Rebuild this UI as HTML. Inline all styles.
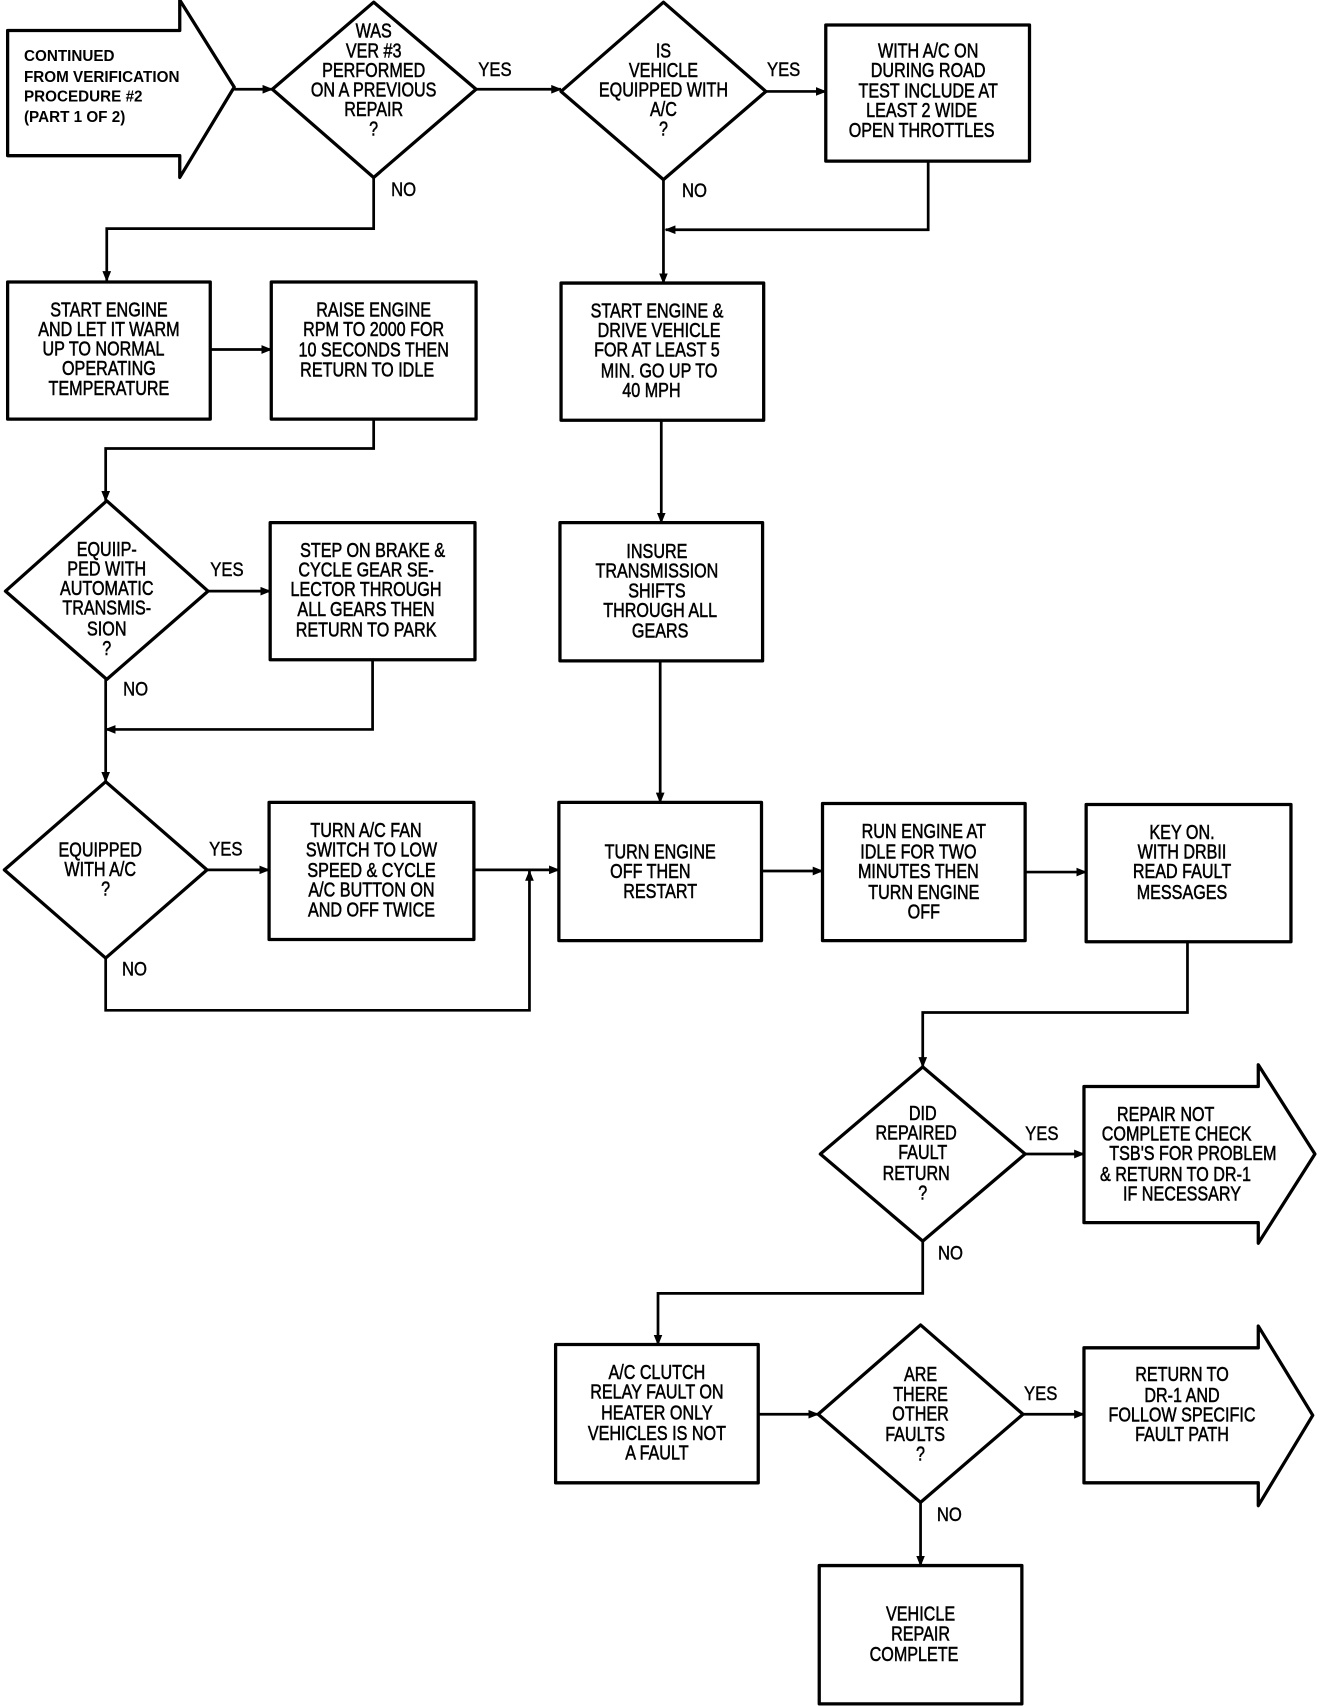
<!DOCTYPE html>
<html><head><meta charset="utf-8"><style>
html,body{margin:0;padding:0;background:#fff}
svg{display:block}
.t{font-family:"Liberation Sans",sans-serif;font-size:19px;fill:#000;stroke:#000;stroke-width:0.5;text-anchor:middle;dominant-baseline:central;transform-box:fill-box;transform-origin:center;transform:scaleX(0.78)}
.s{font-family:"Liberation Sans",sans-serif;font-size:14px;font-weight:bold;fill:#000;dominant-baseline:central}
.l{font-family:"Liberation Sans",sans-serif;font-size:18px;fill:#000;stroke:#000;stroke-width:0.4;dominant-baseline:central;transform-box:fill-box;transform-origin:left center;transform:scaleX(0.85)}
.sh{fill:#fff;stroke:#000;stroke-width:3;stroke-linejoin:round}
.ln{fill:none;stroke:#000;stroke-width:2.5}
</style></head><body>
<svg width="1328" height="1706" viewBox="0 0 1219 1567" preserveAspectRatio="none">
<defs><marker id="a" markerWidth="10" markerHeight="8" refX="9" refY="4" orient="auto" markerUnits="userSpaceOnUse"><path d="M0,0 L10,4 L0,8 z" fill="#000"/></marker></defs>

<!-- start arrow -->
<polygon class="sh" points="7,28 165,28 165,0 215,80 165,163 165,143 7,143"/>
<text class="s" x="22" y="52">CONTINUED</text>
<text class="s" x="22" y="71">FROM VERIFICATION</text>
<text class="s" x="22" y="89">PROCEDURE #2</text>
<text class="s" x="22" y="108">(PART 1 OF 2)</text>

<!-- connectors -->
<line class="ln" x1="215" y1="82" x2="250" y2="82" marker-end="url(#a)"/>
<line class="ln" x1="437" y1="82" x2="515" y2="82" marker-end="url(#a)"/>
<line class="ln" x1="703" y1="84" x2="758" y2="84" marker-end="url(#a)"/>
<polyline class="ln" points="343,163 343,210 98,210 98,258" marker-end="url(#a)"/>
<polyline class="ln" points="852,148 852,211 611,211" marker-end="url(#a)"/>
<line class="ln" x1="609" y1="165" x2="609" y2="260" marker-end="url(#a)"/>
<line class="ln" x1="193" y1="321" x2="249" y2="321" marker-end="url(#a)"/>
<polyline class="ln" points="343,385 343,412 97,412 97,460" marker-end="url(#a)"/>
<line class="ln" x1="607" y1="386" x2="607" y2="480" marker-end="url(#a)"/>
<line class="ln" x1="191" y1="543" x2="248" y2="543" marker-end="url(#a)"/>
<line class="ln" x1="97" y1="624" x2="97" y2="718" marker-end="url(#a)"/>
<polyline class="ln" points="342,606 342,670 97,670" marker-end="url(#a)"/>
<line class="ln" x1="190" y1="799" x2="247" y2="799" marker-end="url(#a)"/>
<line class="ln" x1="606" y1="607" x2="606" y2="737" marker-end="url(#a)"/>
<line class="ln" x1="435" y1="799" x2="513" y2="799" marker-end="url(#a)"/>
<polyline class="ln" points="97,880 97,928 486,928 486,800" marker-end="url(#a)"/>
<line class="ln" x1="699" y1="800" x2="755" y2="800" marker-end="url(#a)"/>
<line class="ln" x1="941" y1="801" x2="997" y2="801" marker-end="url(#a)"/>
<polyline class="ln" points="1090,865 1090,930 847,930 847,980" marker-end="url(#a)"/>
<line class="ln" x1="941" y1="1060" x2="995" y2="1060" marker-end="url(#a)"/>
<polyline class="ln" points="847,1140 847,1188 604,1188 604,1235" marker-end="url(#a)"/>
<line class="ln" x1="696" y1="1299" x2="751" y2="1299" marker-end="url(#a)"/>
<line class="ln" x1="939" y1="1299" x2="995" y2="1299" marker-end="url(#a)"/>
<line class="ln" x1="845" y1="1380" x2="845" y2="1438" marker-end="url(#a)"/>

<!-- diamonds -->
<polygon class="sh" points="343,2 437,82 343,163 250,82"/>
<polygon class="sh" points="609,2 703,84 609,165 515,84"/>
<polygon class="sh" points="98,460 191,543 98,624 5,543"/>
<polygon class="sh" points="97,718 190,799 97,880 4,799"/>
<polygon class="sh" points="847,980 941,1060 847,1140 753,1060"/>
<polygon class="sh" points="845,1217 939,1299 845,1380 751,1299"/>

<!-- boxes -->
<rect class="sh" x="758" y="23" width="187" height="125"/>
<rect class="sh" x="7" y="259" width="186" height="126"/>
<rect class="sh" x="249" y="259" width="188" height="126"/>
<rect class="sh" x="515" y="260" width="186" height="126"/>
<rect class="sh" x="248" y="480" width="188" height="126"/>
<rect class="sh" x="514" y="480" width="186" height="127"/>
<rect class="sh" x="247" y="737" width="188" height="126"/>
<rect class="sh" x="513" y="737" width="186" height="127"/>
<rect class="sh" x="755" y="738" width="186" height="126"/>
<rect class="sh" x="997" y="739" width="188" height="126"/>
<polygon class="sh" points="995,998 1155,998 1155,978 1207,1060 1155,1142 1155,1123 995,1123"/>
<rect class="sh" x="510" y="1235" width="186" height="127"/>
<polygon class="sh" points="995,1238 1155,1238 1155,1218 1205,1300 1155,1383 1155,1362 995,1362"/>
<rect class="sh" x="752" y="1438" width="186" height="127"/>

<!-- labels -->
<text class="l" x="439" y="64">YES</text>
<text class="l" x="704" y="64">YES</text>
<text class="l" x="359" y="174">NO</text>
<text class="l" x="626" y="175">NO</text>
<text class="l" x="193" y="523">YES</text>
<text class="l" x="113" y="633">NO</text>
<text class="l" x="192" y="780">YES</text>
<text class="l" x="112" y="890">NO</text>
<text class="l" x="941" y="1041">YES</text>
<text class="l" x="861" y="1151">NO</text>
<text class="l" x="940" y="1280">YES</text>
<text class="l" x="860" y="1391">NO</text>

<!-- node texts -->
<text class="t" x="343" y="28">WAS</text><text class="t" x="343" y="46">VER #3</text><text class="t" x="343" y="64">PERFORMED</text><text class="t" x="343" y="82">ON A PREVIOUS</text><text class="t" x="343" y="100">REPAIR</text><text class="t" x="343" y="118">?</text>
<text class="t" x="609" y="46">IS</text><text class="t" x="609" y="64">VEHICLE</text><text class="t" x="609" y="82">EQUIPPED WITH</text><text class="t" x="609" y="100">A/C</text><text class="t" x="609" y="118">?</text>
<text class="t" x="852" y="46">WITH A/C ON</text><text class="t" x="852" y="64">DURING ROAD</text><text class="t" x="852" y="83">TEST INCLUDE AT</text><text class="t" x="846" y="101">LEAST 2 WIDE</text><text class="t" x="846" y="119">OPEN THROTTLES</text>
<text class="t" x="100" y="284">START ENGINE</text><text class="t" x="100" y="302">AND LET IT WARM</text><text class="t" x="95" y="320">UP TO NORMAL</text><text class="t" x="100" y="338">OPERATING</text><text class="t" x="100" y="356">TEMPERATURE</text>
<text class="t" x="343" y="284">RAISE ENGINE</text><text class="t" x="343" y="302">RPM TO 2000 FOR</text><text class="t" x="343" y="321">10 SECONDS THEN</text><text class="t" x="337" y="339">RETURN TO IDLE</text>
<text class="t" x="603" y="285">START ENGINE &amp;</text><text class="t" x="605" y="303">DRIVE VEHICLE</text><text class="t" x="603" y="321">FOR AT LEAST 5</text><text class="t" x="605" y="340">MIN. GO UP TO</text><text class="t" x="598" y="358">40 MPH</text>
<text class="t" x="98" y="504">EQUIIP-</text><text class="t" x="98" y="522">PED WITH</text><text class="t" x="98" y="540">AUTOMATIC</text><text class="t" x="98" y="558">TRANSMIS-</text><text class="t" x="98" y="577">SION</text><text class="t" x="98" y="595">?</text>
<text class="t" x="342" y="505">STEP ON BRAKE &amp;</text><text class="t" x="336" y="523">CYCLE GEAR SE-</text><text class="t" x="336" y="541">LECTOR THROUGH</text><text class="t" x="336" y="559">ALL GEARS THEN</text><text class="t" x="336" y="578">RETURN TO PARK</text>
<text class="t" x="603" y="506">INSURE</text><text class="t" x="603" y="524">TRANSMISSION</text><text class="t" x="603" y="542">SHIFTS</text><text class="t" x="606" y="560">THROUGH ALL</text><text class="t" x="606" y="579">GEARS</text>
<text class="t" x="92" y="780">EQUIPPED</text><text class="t" x="92" y="798">WITH A/C</text><text class="t" x="97" y="816">?</text>
<text class="t" x="336" y="762">TURN A/C FAN</text><text class="t" x="341" y="780">SWITCH TO LOW</text><text class="t" x="341" y="799">SPEED &amp; CYCLE</text><text class="t" x="341" y="817">A/C BUTTON ON</text><text class="t" x="341" y="835">AND OFF TWICE</text>
<text class="t" x="606" y="782">TURN ENGINE</text><text class="t" x="597" y="800">OFF THEN</text><text class="t" x="606" y="818">RESTART</text>
<text class="t" x="848" y="763">RUN ENGINE AT</text><text class="t" x="843" y="782">IDLE FOR TWO</text><text class="t" x="843" y="800">MINUTES THEN</text><text class="t" x="848" y="819">TURN ENGINE</text><text class="t" x="848" y="837">OFF</text>
<text class="t" x="1085" y="764">KEY ON.</text><text class="t" x="1085" y="782">WITH DRBII</text><text class="t" x="1085" y="800">READ FAULT</text><text class="t" x="1085" y="819">MESSAGES</text>
<text class="t" x="847" y="1022">DID</text><text class="t" x="841" y="1040">REPAIRED</text><text class="t" x="847" y="1058">FAULT</text><text class="t" x="841" y="1077">RETURN</text><text class="t" x="847" y="1095">?</text>
<text class="t" x="1070" y="1023">REPAIR NOT</text><text class="t" x="1080" y="1041">COMPLETE CHECK</text><text class="t" x="1095" y="1059">TSB'S FOR PROBLEM</text><text class="t" x="1079" y="1078">&amp; RETURN TO DR-1</text><text class="t" x="1085" y="1096">IF NECESSARY</text>
<text class="t" x="603" y="1260">A/C CLUTCH</text><text class="t" x="603" y="1278">RELAY FAULT ON</text><text class="t" x="603" y="1297">HEATER ONLY</text><text class="t" x="603" y="1316">VEHICLES IS NOT</text><text class="t" x="603" y="1334">A FAULT</text>
<text class="t" x="845" y="1262">ARE</text><text class="t" x="845" y="1280">THERE</text><text class="t" x="845" y="1298">OTHER</text><text class="t" x="840" y="1317">FAULTS</text><text class="t" x="845" y="1335">?</text>
<text class="t" x="1085" y="1262">RETURN TO</text><text class="t" x="1085" y="1281">DR-1 AND</text><text class="t" x="1085" y="1299">FOLLOW SPECIFIC</text><text class="t" x="1085" y="1317">FAULT PATH</text>
<text class="t" x="845" y="1482">VEHICLE</text><text class="t" x="845" y="1500">REPAIR</text><text class="t" x="839" y="1519">COMPLETE</text>
</svg>
</body></html>
